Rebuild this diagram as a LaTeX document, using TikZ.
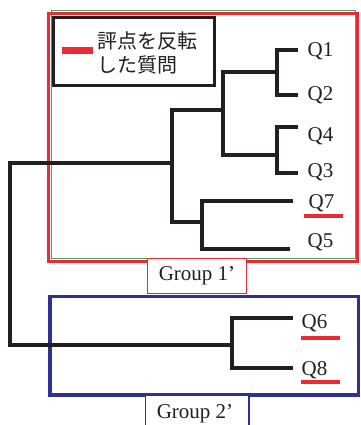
\documentclass[tikz,border=0pt]{standalone}
\usepackage{fontspec}
\setmainfont{Liberation Serif}
\newfontfamily\jpfont{Noto Sans CJK JP}
\definecolor{ink}{HTML}{231F20}
\definecolor{flagred}{HTML}{EC2A33}
\definecolor{grpblue}{HTML}{2E3192}
\definecolor{edgegreen}{HTML}{4FA060}
\begin{document}
\begin{tikzpicture}[x=1pt,y=-1pt,
  dend/.style={draw=ink,line width=3.6pt},
  grpframe/.style={line width=3.3pt},
  qlabel/.style={anchor=base west,inner sep=0pt,font=\fontsize{21}{25}\selectfont,text=ink},
  grptag/.style={draw,line width=1.3pt,fill=white,inner sep=0pt,
    font=\fontsize{21}{25}\selectfont,text=ink},
  flagline/.style={draw=flagred,line width=3.3pt},
  jptext/.style={anchor=base west,inner sep=0pt,font=\jpfont\fontsize{20}{24}\selectfont,text=ink}]
\useasboundingbox (0,0) rectangle (360,425);
\clip (0,0) rectangle (360,425);

% group frames
\draw[edgegreen,line width=0.8pt] (51,10.5) rectangle (355.5,258.5);
\draw[grpframe,flagred] (48.3,13.5) rectangle (357.5,261.7);
\draw[grpframe,grpblue] (50,296.7) rectangle (358.3,395);

% legend
\node[draw=ink,line width=3.3pt,fill=white,minimum width=161pt,minimum height=68pt,inner sep=0pt]
  (legend) at (133.8,51.7) {};
\draw[draw=flagred,line width=7pt] (61.7,51) -- (93.3,51);
\node[jptext] (leg1) at (97.5,48.6) {評点を反転};
\node[jptext] (leg2) at (97.5,72.6) {した質問};

% leaf labels
\node[qlabel] (q1) at (307.5,57) {Q1};
\node[qlabel] (q2) at (307.5,100) {Q2};
\node[qlabel] (q4) at (307.5,141) {Q4};
\node[qlabel] (q3) at (307.5,177) {Q3};
\node[qlabel] (q7) at (308.5,208) {Q7};
\node[qlabel] (q5) at (307.5,247) {Q5};
\node[qlabel] (q6) at (301.5,328) {Q6};
\node[qlabel] (q8) at (301.5,375) {Q8};

% reversed-score marks
\draw[flagline] (304,216) -- (343,216);
\draw[flagline] (301,338) -- (340,338);
\draw[flagline] (301,382) -- (340,382);

% leaf ends and merge points
\coordinate (e1) at (298,50);
\coordinate (e2) at (298,95);
\coordinate (e4) at (298,127);
\coordinate (e3) at (298,173);
\coordinate (e7) at (293,201);
\coordinate (e5) at (290,249);
\coordinate (e6) at (293,318);
\coordinate (e8) at (293,368);
\coordinate (m12) at (277,72);
\coordinate (m34) at (277,155);
\coordinate (m1234) at (223,110);
\coordinate (m75) at (202,222);
\coordinate (mg1) at (172,163);
\coordinate (m68) at (232,345);
\coordinate (root) at (10,254);

% dendrogram
\draw[dend] (e1) -| (m12) |- (e2);
\draw[dend] (e4) -| (m34) |- (e3);
\draw[dend] (m12) -| (m1234) |- (m34);
\draw[dend] (e7) -| (m75) |- (e5);
\draw[dend] (m1234) -| (mg1) |- (m75);
\draw[dend] (e6) -| (m68) |- (e8);
\draw[dend] (mg1) -| (root) |- (m68);

% group tags
\node[grptag,draw=flagred,minimum width=99pt,minimum height=35pt] (g1) at (197,275.7) {Group 1’};
\node[grptag,draw=grpblue,minimum width=103.5pt,minimum height=50pt] (g2) at (197.3,420.5) {};
\node[anchor=base,inner sep=0pt,font=\fontsize{21}{25}\selectfont,text=ink] (g2text) at (195,418) {Group 2’};
\end{tikzpicture}
\end{document}
